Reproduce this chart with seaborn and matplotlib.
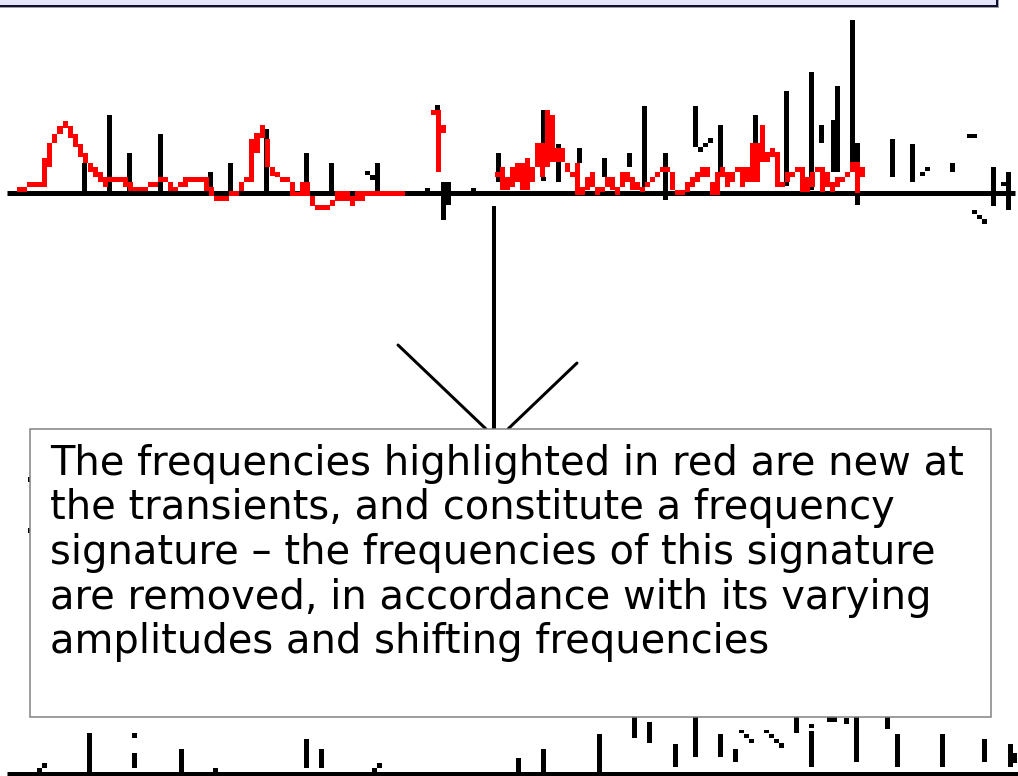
import numpy as np
import pandas as pd
import matplotlib
matplotlib.use("Agg")
import matplotlib.pyplot as plt
from matplotlib.patches import Rectangle
from matplotlib.lines import Line2D
import seaborn as sns

sns.set_theme(style="white")
plt.rcParams['font.family'] = ['DejaVu Sans']

# ------------------------------------------------------------------ data
# Upper spectrum (transient frame): black frequency components
top_stem_bin = [85, 110, 130, 161, 186, 211, 231, 267, 307, 332,
                368, 373, 378, 428, 438, 444, 449, 474, 499, 544,
                544, 559, 580, 605, 630, 645, 666, 696, 701, 706,
                711, 721, 756, 787, 812, 822, 834, 838, 853, 853,
                858, 858, 893, 913, 923, 928, 953, 969.5, 974.5, 974.5,
                979.5, 984.5, 994, 1004, 1009]
top_stem_low = [0, 0, 0, 0, 11, 6, 0, 0, 0, 0,
                18, 13, 0, 0, 83, -27, -12, 0, 11, 50,
                12, 11, 30, 16, 26, 6, -7, 46, 41, 46,
                50, 21, 50, 7, 3, 50, 21, 21, 50, 31,
                31, -12, 16, 11, 17, 22, 21, 55, 55, -21,
                -26, -31, -13, 7, -17]
top_stem_high = [30, 78, 40, 59, 16, 21, 30, 64, 40, 30,
                 22, 18, 30, 5, 88, 11, 11, 5, 40, 83,
                 16, 49, 45, 35, 40, 87, 40, 87, 46, 50,
                 55, 68, 78, 102, 121, 68, 73, 107, 173, 50,
                 50, 0, 54, 49, 21, 26, 30, 59, 59, -17,
                 -22, -26, 26, 11, 21]

# Red highlighted signature: frequency-bin ranges with amplitude span
red_start = [17, 27, 42, 47, 52, 57, 63, 68, 73, 78, 83, 88, 93, 98, 103, 108, 123, 128, 133, 148,
             158, 168, 173, 178, 183, 188, 204, 209, 214, 229, 239, 244, 249, 254, 260, 265, 270, 275,
             280, 290, 295, 300, 310, 315, 330, 335, 350, 355, 365,
             431, 436, 441,
             495, 500, 505, 510, 515, 520, 525, 530, 535, 540, 545, 550, 555, 565, 570, 575, 580, 585,
             590, 595, 600, 605, 610, 615, 620, 625, 630, 635, 640, 645, 650, 655, 660, 670, 675, 685,
             690, 695, 700, 710, 715, 720, 725, 730, 735, 740, 745, 750, 760, 765, 770, 775, 780, 785,
             790, 795, 800, 805, 810, 815, 820, 825, 830, 835, 840, 845, 850, 855, 860]
red_end = [27, 42, 47, 52, 57, 63, 68, 73, 78, 83, 88, 93, 98, 103, 108, 123, 128, 133, 148, 158,
           168, 173, 178, 183, 188, 204, 209, 214, 229, 239, 244, 249, 254, 260, 265, 270, 275, 280,
           290, 295, 300, 310, 315, 330, 335, 350, 355, 365, 405,
           436, 441, 446,
           500, 505, 510, 515, 520, 525, 530, 535, 540, 545, 550, 555, 565, 570, 575, 580, 585, 590,
           595, 600, 605, 610, 615, 620, 625, 630, 635, 640, 645, 650, 655, 660, 670, 675, 685, 690,
           695, 700, 710, 715, 720, 725, 730, 735, 740, 745, 750, 760, 765, 770, 775, 780, 785, 790,
           795, 800, 805, 810, 815, 820, 825, 830, 835, 840, 845, 850, 855, 860, 865]
red_low = [1, 6, 6, 26, 50, 59, 65, 55, 46, 36, 30, 21, 16, 11, 6, 11, 6, 2, 2, 6,
           11, 2, 2, 6, 6, 11, 2, -3, -8, -3, 2, 11, 11, 40, 55, 26, 17, 16,
           11, -3, -3, -3, -13, -17, -13, -8, -13, -8, -3,
           78, 21, 60,
           16, 3, 3, 6, 11, 3, 3, 11, 26, 16, 26, 31, 31, 21, 16, -2, -2, 3,
           6, -2, 1, 6, 3, -2, 6, 11, 3, 3, 1, 6, 11, 16, 21, 3, -2, 1,
           6, 11, 16, -2, -2, 16, 6, 11, 21, 6, 11, 11, 31, 31, 36, 6, 6, 11,
           16, 21, 1, 1, 6, 21, 1, 6, 1, 6, 11, 16, 21, 0, 16]
red_high = [6, 11, 35, 50, 59, 67, 72, 67, 59, 49, 40, 30, 26, 21, 16, 16, 16, 11, 6, 11,
            16, 11, 6, 11, 16, 16, 16, 6, -3, 2, 11, 16, 54, 60, 68, 54, 26, 21,
            16, 11, 1, 11, -3, -12, -7, 2, -3, 2, 2,
            83, 83, 68,
            21, 26, 16, 26, 30, 30, 35, 26, 50, 50, 83, 78, 45, 30, 21, 30, 6, 16,
            21, 6, 6, 16, 16, 6, 21, 21, 16, 11, 6, 11, 16, 21, 26, 21, 3, 11,
            16, 21, 26, 11, 21, 26, 21, 21, 26, 26, 26, 50, 68, 41, 45, 41, 11, 21,
            21, 26, 26, 16, 21, 26, 26, 21, 11, 16, 16, 21, 31, 31, 26]

# Lower spectrum (steady frame): black frequency components
bot_stem_bin = [39.5, 44.5, 90, 135, 135, 182, 216, 307, 322, 375,
                380, 519, 544, 600, 635, 650, 676, 696, 721, 736,
                742, 747, 752, 767, 772, 777, 782, 797, 812, 812,
                830, 835, 847, 857, 888, 898, 943, 985, 1010.5, 1015]
bot_stem_low = [2, 6, 0, 36, 6, 0, 0, 6, 6, 2,
                6, 0, 0, 0, 36, 31, 7, 17, 17, 12,
                41, 36, 31, 41, 36, 31, 26, 41, 46, 7,
                52, 52, 50, 12, 45, 7, 7, 12, 7, 11]
bot_stem_high = [6, 11, 41, 41, 21, 25, 6, 35, 25, 6,
                 11, 16, 25, 40, 58, 52, 30, 58, 40, 25,
                 44, 40, 35, 44, 40, 35, 31, 58, 50, 43,
                 58, 58, 56, 58, 58, 40, 40, 35, 30, 21]
# fragments of a hidden middle spectrum peeking out left of the text box
mid_stem_bin = [29.5, 29.5]
mid_stem_low = [241, 292]
mid_stem_high = [246, 297]

top_base_bins = [7, 1015]
bot_base_bins = [7, 1018]

caption_lines = [
    "The frequencies highlighted in red are new at",
    "the transients, and constitute a frequency",
    "signature \u2013 the frequencies of this signature",
    "are removed, in accordance with its varying",
    "amplitudes and shifting frequencies",
]

# ------------------------------------------------------------------ figure
W, H = 1018, 776
fig = plt.figure(figsize=(W / 100, H / 100), dpi=100)
fig.patch.set_facecolor("white")

px = 72 / 100.0  # points per pixel

# upper spectrum axes (amplitude 0 sits at pixel row 193)
ax_top = fig.add_axes([0, 0, 1, 1])
ax_top.set_xlim(0, W)
ax_top.set_ylim(193 - H, 193)
# lower spectrum axes (amplitude 0 sits at pixel row 774)
ax_bot = fig.add_axes([0, 0, 1, 1])
ax_bot.set_xlim(0, W)
ax_bot.set_ylim(774 - H, 774)
for a in (ax_top, ax_bot):
    a.set_axis_off()
    a.patch.set_visible(False)

# baselines via seaborn
df_top_base = pd.DataFrame({"bin": top_base_bins, "amp": [0, 0]})
df_bot_base = pd.DataFrame({"bin": bot_base_bins, "amp": [0, 0]})
sns.lineplot(data=df_top_base, x="bin", y="amp", ax=ax_top, color="black",
             linewidth=5 * px, solid_capstyle="butt", zorder=2)
sns.lineplot(data=df_bot_base, x="bin", y="amp", ax=ax_bot, color="black",
             linewidth=5 * px, solid_capstyle="butt", zorder=2)

# black stems
ax_top.bar(top_stem_bin, np.subtract(top_stem_high, top_stem_low), width=5,
           bottom=top_stem_low, color="black", linewidth=0, zorder=3)
ax_bot.bar(bot_stem_bin, np.subtract(bot_stem_high, bot_stem_low), width=5,
           bottom=bot_stem_low, color="black", linewidth=0, zorder=3)
ax_bot.bar(mid_stem_bin, np.subtract(mid_stem_high, mid_stem_low), width=3.5,
           bottom=mid_stem_low, color="black", linewidth=0, zorder=3)

# red signature
ax_top.bar(red_start, np.subtract(red_high, red_low),
           width=np.subtract(red_end, red_start), bottom=red_low, align="edge",
           color="#ff0000", linewidth=0, zorder=4)

# overlay for slide decorations (pixel coordinates)
ov = fig.add_axes([0, 0, 1, 1], zorder=5)
ov.set_xlim(0, W)
ov.set_ylim(H, 0)
ov.set_axis_off()
ov.patch.set_visible(False)

# header bar of the slide
ov.add_patch(Rectangle((-8, -8), 1007, 15.7, facecolor="#a0a0a0", edgecolor="none"))
ov.add_patch(Rectangle((-10, -10), 1007, 15.7, facecolor="#e6e6fa",
                       edgecolor="#101030", linewidth=2 * px))

# arrow
ov.add_line(Line2D([494.5, 494.5], [206, 430], color="black",
                   linewidth=4 * px, solid_capstyle="butt"))
ov.add_line(Line2D([398, 486], [345, 429], color="black", linewidth=3 * px))
ov.add_line(Line2D([577, 508], [363, 429], color="black", linewidth=3 * px))

# caption box
ov.add_patch(Rectangle((30.5, 429), 960.5, 287.5, facecolor="white",
                       edgecolor="#808080", linewidth=1.5 * px, zorder=6))
for i, line in enumerate(caption_lines):
    ov.text(50, 475 + 44.5 * i, line, fontsize=28.8, color="black",
            ha="left", va="baseline", zorder=7)

fig.savefig("out.png", dpi=100, facecolor="white")
